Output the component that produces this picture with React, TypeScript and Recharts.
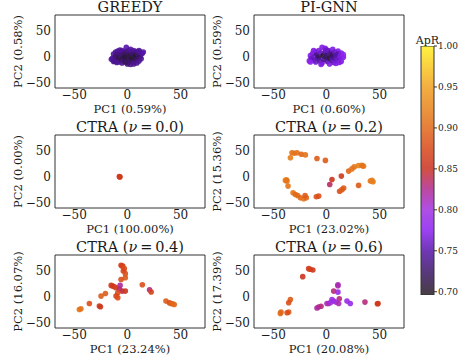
import React from 'react';
import { ScatterChart, Scatter, XAxis, YAxis, BarChart, Bar } from 'recharts';

type Pt = [number, number, number]; // [PC1, PC2, ApR]

const GREEDY_PTS: Pt[] = [
  [-14, -3, 0.74], [-13, 5, 0.745], [-12, -8, 0.73], [-11, 9, 0.74], [-11, 0, 0.72], [-10, -4, 0.735],
  [-9, 11, 0.745], [-9, 4, 0.73], [-8, -10, 0.74], [-8, -1, 0.71], [-7, 7, 0.735], [-6, -6, 0.72],
  [-6, 2, 0.73], [-5, 12, 0.745], [-5, -12, 0.74], [-4, -3, 0.71], [-4, 8, 0.73], [-3, 3, 0.72],
  [-3, -8, 0.73], [-2, 10, 0.735], [-2, -1, 0.70], [-1, 18, 0.75], [-1, 5, 0.72], [0, -6, 0.72],
  [0, 1, 0.71], [1, 11, 0.735], [1, -11, 0.73], [2, -2, 0.72], [2, 6, 0.73], [3, -15, 0.74],
  [3, 2, 0.71], [4, 9, 0.735], [4, -7, 0.72], [5, -3, 0.70], [5, 4, 0.72], [6, 12, 0.745],
  [6, -10, 0.73], [7, 0, 0.71], [7, 7, 0.73], [8, -5, 0.72], [8, 3, 0.70], [9, 10, 0.74],
  [9, -12, 0.74], [10, -2, 0.72], [10, 5, 0.73], [11, -8, 0.74], [12, 1, 0.72], [12, 9, 0.745],
  [13, -4, 0.74], [14, 6, 0.745], [15, 9, 0.75], [-15, -5, 0.745], [-13, -9, 0.74], [-7, 13, 0.745],
  [3, 14, 0.745], [11, 12, 0.745], [-10, -11, 0.74], [6, -14, 0.74], [0, -14, 0.73], [-2, -10, 0.72],
];

const PIGNN_PTS: Pt[] = [
  [-16, -8, 0.77], [-15, 2, 0.77], [-14, -3, 0.76], [-13, 6, 0.77], [-12, -6, 0.75], [-11, 1, 0.76],
  [-10, 10, 0.77], [-10, -10, 0.76], [-9, 5, 0.74], [-8, -3, 0.75], [-7, 12, 0.77], [-7, 0, 0.72],
  [-6, -8, 0.75], [-5, 7, 0.76], [-4, 18, 0.77], [-4, -12, 0.76], [-3, 2, 0.70], [-2, -5, 0.74],
  [-1, 16, 0.77], [-1, 9, 0.75], [0, -1, 0.72], [1, -9, 0.75], [1, 5, 0.73], [2, 12, 0.76],
  [3, -3, 0.71], [3, -14, 0.77], [4, 8, 0.74], [5, 0, 0.73], [5, -7, 0.75], [6, 14, 0.77],
  [6, 4, 0.72], [7, -11, 0.76], [8, -2, 0.74], [8, 9, 0.76], [9, -13, 0.77], [9, 2, 0.75],
  [10, -6, 0.76], [11, 11, 0.77], [11, 5, 0.75], [12, -3, 0.76], [13, 1, 0.77], [14, -9, 0.77],
  [14, 7, 0.77], [16, -1, 0.77], [16, 4, 0.78], [-12, 12, 0.77], [-15, -10, 0.78], [0, 13, 0.76],
  [-5, -15, 0.77], [12, -11, 0.77],
];

const CTRA00_PTS: Pt[] = [
  [-7.5, 0.5, 0.86], [-7, -0.5, 0.87], [-7.2, 0, 0.86],
];

const CTRA02_PTS: Pt[] = [
  [-32.3, 46, 0.91], [-30, 45, 0.91], [-33.8, 36.5, 0.92], [-27.5, 46, 0.91], [-23.5, 43, 0.9],
  [-19.7, 41.8, 0.91], [-8.8, 35, 0.89], [-0.9, 31.3, 0.89], [-38.5, -7.1, 0.92], [-37.5, -6, 0.92],
  [-37, -8, 0.91], [-36, -18, 0.91], [-31.3, -30.8, 0.91], [-29.1, -34, 0.9], [-26.9, -36, 0.9],
  [-24.4, -40.5, 0.9], [-21.3, -42.4, 0.91], [-18.8, -40.5, 0.9], [-20, -36, 0.89], [-9.4, -38.5, 0.88],
  [-7.2, -37.2, 0.88], [5.3, -5.2, 0.855], [3.2, -14.8, 0.835], [14.1, 1.2, 0.86], [12.5, -28, 0.88],
  [14.7, -24.8, 0.89], [16.3, -21.5, 0.89], [21, 10.8, 0.9], [24, 15, 0.91], [26.2, 18.8, 0.91],
  [30.3, 21.4, 0.92], [33.4, 22, 0.92], [35, 20, 0.92], [34, 21, 0.91], [30.3, -16.7, 0.89],
  [41.4, -8.4, 0.91], [42.9, -7.1, 0.92], [43.9, -9.6, 0.92],
];

const CTRA04_PTS: Pt[] = [
  [-5.9, 60.2, 0.87], [-5, 59, 0.86], [-4.3, 58.9, 0.87], [-2.8, 53.8, 0.88], [-3.8, 49.3, 0.87],
  [-1.9, 44.2, 0.88], [-1.9, 36.5, 0.89], [-5.9, 33, 0.88], [-15.2, 21.7, 0.86], [-13.7, 20.5, 0.86],
  [-12.2, 19.2, 0.86], [-10.6, 17.3, 0.87], [-6.8, 21.7, 0.82], [-7.4, 14, 0.83], [-4.9, 10.8, 0.84],
  [-9, 7.6, 0.88], [-10.6, 1.2, 0.87], [-9, -2, 0.88], [-1.9, 10.8, 0.855], [14.1, 23, 0.88],
  [20.9, 13.5, 0.83], [22.4, 9, 0.87], [-20.6, 6.3, 0.89], [-24.7, 1.2, 0.89], [-35.7, -12.9, 0.88],
  [-26.3, -18, 0.86], [-25.3, -19.2, 0.86], [-45.1, -24.4, 0.91], [-43.6, -23.1, 0.91], [36.3, -8.4, 0.89],
  [39.5, -11.6, 0.88], [41, -12.9, 0.89], [42.6, -13.5, 0.9], [44.1, -14.8, 0.9],
];

const CTRA06_PTS: Pt[] = [
  [-16.6, 53.8, 0.86], [-15.2, 52.6, 0.87], [-12.7, 51.3, 0.86], [-22.2, 38.5, 0.855], [-33.8, -5.2, 0.89],
  [-35.4, -11.6, 0.88], [-42.6, -29.5, 0.9], [-43.2, -32, 0.9], [-35.4, -29.5, 0.89], [-36.9, -30.8, 0.88],
  [10.9, 23, 0.815], [10.9, 21, 0.815], [6.9, 10.8, 0.83], [10.9, 8.8, 0.79], [12.2, -3.8, 0.83],
  [5.3, -5.2, 0.79], [6.9, -8.4, 0.795], [9.1, -10.3, 0.8], [11.6, -12.9, 0.815], [2.2, -12.9, 0.81],
  [0.6, -12.9, 0.815], [4, -11, 0.8], [-8.8, -21.5, 0.82], [-7.2, -19.6, 0.82], [-5, -18.3, 0.83],
  [19.4, -8.4, 0.79], [22.5, -12.9, 0.79], [36.3, -10.3, 0.83], [48.6, -12.9, 0.86], [48, -13.5, 0.86],
];

const X_DOMAIN: [number, number] = [-68, 73];
const Y_DOMAIN: [number, number] = [-60, 80];
const MAJOR_TICKS = [-50, 0, 50];
const X_MINOR_TICKS = [-60, -40, -30, -20, -10, 10, 20, 30, 40, 60, 70];
const Y_MINOR_TICKS = [-40, -30, -20, -10, 10, 20, 30, 40, 60, 70];

const CBAR_DOMAIN: [number, number] = [0.696, 1.0];
const CBAR_TICKS = [0.7, 0.75, 0.8, 0.85, 0.9, 0.95, 1.0];
const CBAR_LABEL = 'ApR';

const COLOR_STOPS: [number, string][] = [
  [0.696, '#261c22'],
  [0.72, '#38165c'],
  [0.75, '#5514a8'],
  [0.775, '#8a20f0'],
  [0.8, '#a030e0'],
  [0.825, '#b02890'],
  [0.85, '#c83020'],
  [0.875, '#d84818'],
  [0.9, '#e06818'],
  [0.95, '#f0a020'],
  [1.0, '#fff020'],
];

const TITLES = ['GREEDY', 'PI-GNN', 'CTRA', 'CTRA', 'CTRA', 'CTRA'];
const NU_LABELS = [null, null, '0.0', '0.2', '0.4', '0.6'];
const X_LABELS = ['PC1 (0.59%)', 'PC1 (0.60%)', 'PC1 (100.00%)', 'PC1 (23.02%)', 'PC1 (23.24%)', 'PC1 (20.08%)'];
const Y_LABELS = ['PC2 (0.58%)', 'PC2 (0.59%)', 'PC2 (0.00%)', 'PC2 (15.36%)', 'PC2 (16.07%)', 'PC2 (17.39%)'];
const PANEL_POINTS = [GREEDY_PTS, PIGNN_PTS, CTRA00_PTS, CTRA02_PTS, CTRA04_PTS, CTRA06_PTS];

const FONT = "'DejaVu Serif', serif";
const INK = '#1a1a1a';
const FRAME = '#333333';

function hexToRgb(h: string): number[] {
  return [1, 3, 5].map((i) => parseInt(h.slice(i, i + 2), 16));
}

function cmap(v: number): string {
  const s = COLOR_STOPS;
  if (v <= s[0][0]) return s[0][1];
  if (v >= s[s.length - 1][0]) return s[s.length - 1][1];
  for (let i = 0; i < s.length - 1; i++) {
    const [a, ca] = s[i];
    const [b, cb] = s[i + 1];
    if (v >= a && v <= b) {
      const t = (v - a) / (b - a);
      const A = hexToRgb(ca);
      const B = hexToRgb(cb);
      const c = A.map((x, k) => Math.round(x + (B[k] - x) * t));
      return `rgb(${c[0]},${c[1]},${c[2]})`;
    }
  }
  return s[0][1];
}

const fmtTick = (v: number) => (v < 0 ? '\u2212' + Math.abs(v) : String(v));

const Dot = (props: any) => {
  const { cx, cy, payload } = props;
  if (cx == null || cy == null) return <g />;
  return <circle cx={cx} cy={cy} r={2.8} fill={cmap(payload.apr)} fillOpacity={0.9} />;
};

const PW = 150;
const PH = 73;
const LW = 55;
const RW = 8;
const TH = 15;
const BH = 32;

const tickText = { fontSize: 12, fill: INK, fontFamily: FONT };
const lineStyle = { stroke: FRAME, strokeWidth: 1 };

function Panel({ idx, plotLeft, plotTop }: { idx: number; plotLeft: number; plotTop: number }) {
  const data = PANEL_POINTS[idx].map(([x, y, apr]) => ({ x, y, apr }));
  const nu = NU_LABELS[idx];
  const cx = LW + PW / 2;
  return (
    <div style={{ position: 'absolute', left: plotLeft - LW, top: plotTop - TH }}>
      <ScatterChart
        width={LW + PW + RW}
        height={TH + PH + BH}
        margin={{ top: TH, right: RW, bottom: 0, left: 0 }}
      >
        <XAxis xAxisId="b" dataKey="x" type="number" domain={X_DOMAIN} ticks={MAJOR_TICKS} interval={0}
          allowDataOverflow height={BH} tickSize={0} tickMargin={2} axisLine={false} tickLine={false}
          tick={tickText} tickFormatter={fmtTick} />
        <XAxis xAxisId="bM" type="number" domain={X_DOMAIN} ticks={MAJOR_TICKS} interval={0} allowDataOverflow
          mirror tick={false} tickSize={4} axisLine={lineStyle} tickLine={lineStyle} />
        <XAxis xAxisId="bm" type="number" domain={X_DOMAIN} ticks={X_MINOR_TICKS} interval={0} allowDataOverflow
          mirror tick={false} tickSize={2} axisLine={false} tickLine={lineStyle} />
        <XAxis xAxisId="tM" orientation="top" type="number" domain={X_DOMAIN} ticks={MAJOR_TICKS} interval={0}
          allowDataOverflow mirror tick={false} tickSize={4} axisLine={lineStyle} tickLine={lineStyle} />
        <XAxis xAxisId="tm" orientation="top" type="number" domain={X_DOMAIN} ticks={X_MINOR_TICKS} interval={0}
          allowDataOverflow mirror tick={false} tickSize={2} axisLine={false} tickLine={lineStyle} />
        <YAxis yAxisId="l" dataKey="y" type="number" domain={Y_DOMAIN} ticks={MAJOR_TICKS} interval={0}
          allowDataOverflow width={LW} tickSize={0} tickMargin={4} axisLine={false} tickLine={false}
          tick={tickText} tickFormatter={fmtTick} />
        <YAxis yAxisId="lM" type="number" domain={Y_DOMAIN} ticks={MAJOR_TICKS} interval={0} allowDataOverflow
          mirror tick={false} tickSize={4} axisLine={lineStyle} tickLine={lineStyle} />
        <YAxis yAxisId="lm" type="number" domain={Y_DOMAIN} ticks={Y_MINOR_TICKS} interval={0} allowDataOverflow
          mirror tick={false} tickSize={2} axisLine={false} tickLine={lineStyle} />
        <YAxis yAxisId="rM" orientation="right" type="number" domain={Y_DOMAIN} ticks={MAJOR_TICKS} interval={0}
          allowDataOverflow mirror tick={false} tickSize={4} axisLine={lineStyle} tickLine={lineStyle} />
        <YAxis yAxisId="rm" orientation="right" type="number" domain={Y_DOMAIN} ticks={Y_MINOR_TICKS} interval={0}
          allowDataOverflow mirror tick={false} tickSize={2} axisLine={false} tickLine={lineStyle} />
        <Scatter xAxisId="b" yAxisId="l" data={data} shape={Dot} isAnimationActive={false} />
        <text x={cx} y={TH - 3} textAnchor="middle" fontFamily={FONT} fontSize={14.5} fill={INK}>
          {nu == null ? (
            TITLES[idx]
          ) : (
            <>
              <tspan>{TITLES[idx] + ' ('}</tspan>
              <tspan fontStyle="italic">ν</tspan>
              <tspan>{'\u2009=\u2009' + nu + ')'}</tspan>
            </>
          )}
        </text>
        <text x={cx} y={TH + PH + 25} textAnchor="middle" fontFamily={FONT} fontSize={11.5} fill={INK}>
          {X_LABELS[idx]}
        </text>
        <text x={18} y={TH + PH / 2} textAnchor="middle" dominantBaseline="central" fontFamily={FONT}
          fontSize={11.5} fill={INK} transform={`rotate(-90, 18, ${TH + PH / 2})`}>
          {Y_LABELS[idx]}
        </text>
      </ScatterChart>
    </div>
  );
}

function ColorBar() {
  const CW = 13;
  const CH = 249;
  const ML = 11;
  const MT = 12;
  const MB = 10;
  const data = [{ name: CBAR_LABEL, v: CBAR_DOMAIN[1] }];
  const span = CBAR_DOMAIN[1] - CBAR_DOMAIN[0];
  return (
    <div style={{ position: 'absolute', left: 421 - ML, top: 46 - MT }}>
      <BarChart width={ML + CW + 34} height={MT + CH + MB} data={data} barCategoryGap={0}
        margin={{ top: MT, right: 0, bottom: MB, left: ML }}>
        <defs>
          <linearGradient id="cbarGrad" x1="0" y1="1" x2="0" y2="0">
            {COLOR_STOPS.map(([v, c]) => (
              <stop key={v} offset={`${((v - CBAR_DOMAIN[0]) / span) * 100}%`} stopColor={c} stopOpacity={0.85} />
            ))}
          </linearGradient>
        </defs>
        <XAxis dataKey="name" hide />
        <YAxis orientation="right" type="number" domain={CBAR_DOMAIN} ticks={CBAR_TICKS} interval={0}
          allowDataOverflow width={34} tickSize={3} tickMargin={1} axisLine={false} tickLine={lineStyle}
          tick={{ fontSize: 9, fill: INK, fontFamily: FONT }} tickFormatter={(v: number) => v.toFixed(2)} />
        <Bar dataKey="v" fill="url(#cbarGrad)" stroke={FRAME} strokeWidth={1} isAnimationActive={false} />
        <text x={ML + CW / 2} y={MT - 2} textAnchor="middle" fontFamily={FONT} fontSize={11} fill={INK}>
          {CBAR_LABEL}
        </text>
      </BarChart>
    </div>
  );
}

const COL_LEFTS = [55, 254];
const ROW_TOPS = [15, 135, 255];

export default function App() {
  return (
    <div style={{ position: 'absolute', left: 0, top: 0, width: 461, height: 364, background: '#fff', overflow: 'hidden' }}>
      {PANEL_POINTS.map((_, i) => (
        <Panel key={i} idx={i} plotLeft={COL_LEFTS[i % 2]} plotTop={ROW_TOPS[Math.floor(i / 2)]} />
      ))}
      <ColorBar />
    </div>
  );
}
